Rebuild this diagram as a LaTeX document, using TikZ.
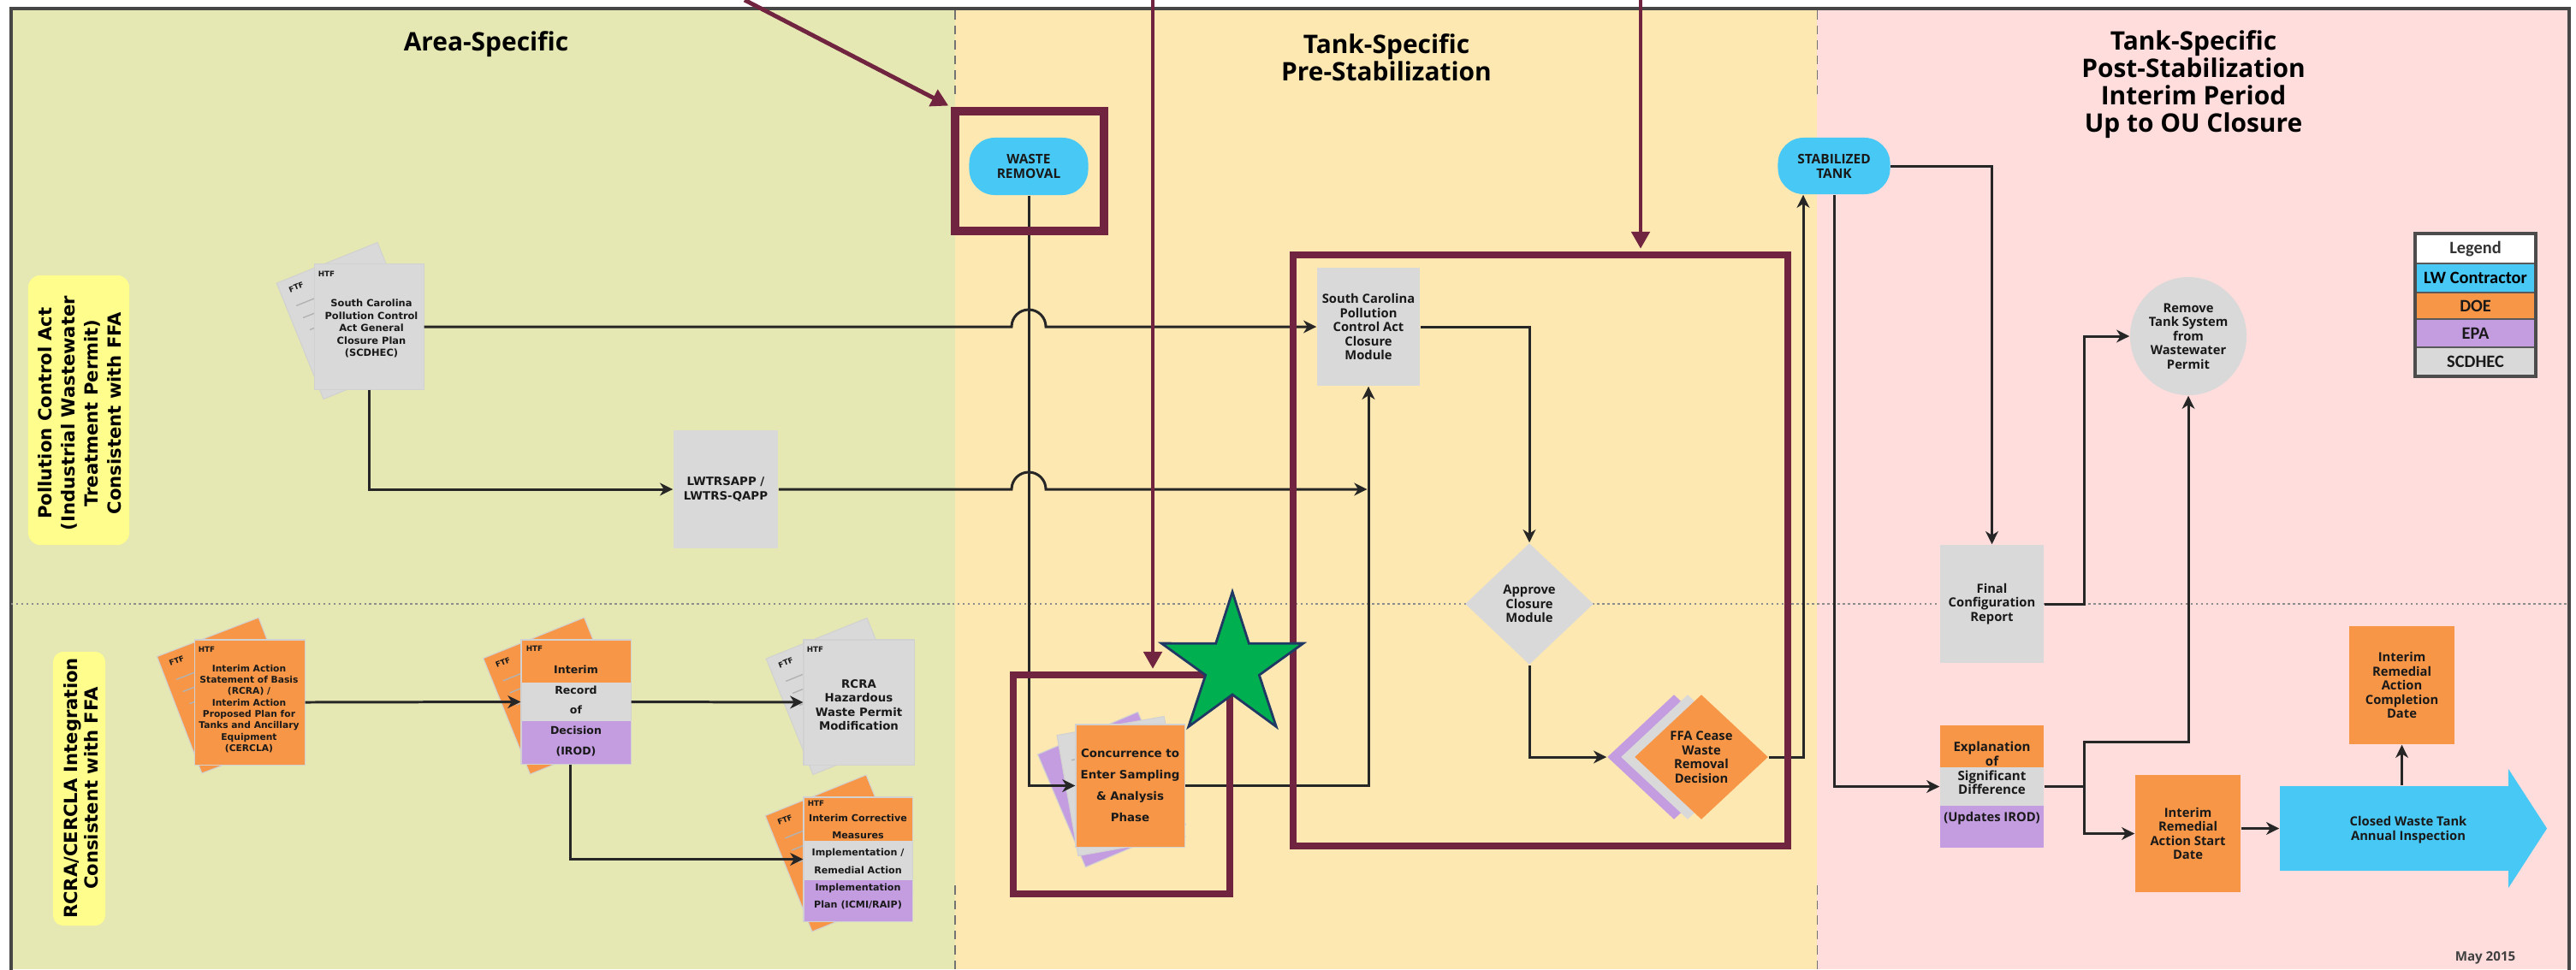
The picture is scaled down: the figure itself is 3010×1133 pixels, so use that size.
\documentclass[tikz,border=0pt]{standalone}
\usepackage{fontspec}
\setmainfont{Open Sans}
\newfontfamily\dvsans{DejaVu Sans}
\newfontfamily\opsans{Open Sans}
\newfontfamily\carlito{Carlito}
\usetikzlibrary{shapes.geometric,arrows.meta,calc}

\definecolor{bgArea}{RGB}{229,232,178}
\definecolor{bgPre}{RGB}{253,232,178}
\definecolor{bgPost}{RGB}{254,221,220}
\definecolor{laneY}{RGB}{255,253,140}
\definecolor{cGray}{RGB}{217,217,217}
\definecolor{cOrange}{RGB}{247,150,70}
\definecolor{cPurple}{RGB}{196,157,224}
\definecolor{cCyan}{RGB}{72,200,245}
\definecolor{maroon}{RGB}{112,36,64}
\definecolor{starG}{RGB}{0,176,80}
\definecolor{starB}{RGB}{31,56,100}
\definecolor{frameC}{RGB}{70,70,70}
\definecolor{lineC}{RGB}{38,38,38}
\definecolor{txtC}{RGB}{25,25,25}

% rotated back sheet of a document stack, with its FTF tag and ruling
\newcommand\backsheet[5]{%
  \node[sheet, fill=#4, rotate=#5, minimum width=1.27cm, minimum height=1.46cm] (#1) at (#2,#3) {};
  \begin{scope}[shift={(#2,#3)}, rotate=#5]
    \node[tag, transform shape] (#1t) at (-44,-60) {FTF};
    \draw[sheetln] (-52,-40) -- (-10,-40) (-50,-24) -- (-10,-24) (-48,-8) -- (-10,-8);
  \end{scope}}

\begin{document}
\begin{tikzpicture}[x=0.01cm, y=-0.01cm,
  conn/.style={draw=lineC, line width=0.85pt, -{Stealth[length=4.3pt,width=4.2pt,inset=1.3pt]}},
  annot/.style={draw=maroon, line width=1.4pt, -{Triangle[length=0.2cm,width=0.21cm]}, shorten >=0.03cm},
  hl/.style={draw=maroon, rectangle, inner sep=0pt, fill=none},
  sheet/.style={rectangle, inner sep=0pt, draw=black!18, line width=0.3pt},
  frontdoc/.style={rectangle, inner sep=0pt, draw=black!18, line width=0.3pt},
  tag/.style={inner sep=0pt, text=txtC, font={\dvsans\bfseries\fontsize{2.5}{3}\selectfont}},
  sheetln/.style={draw=black!30, line width=0.4pt},
  ntxt/.style={align=center, text=txtC, inner sep=0pt, font={\opsans\bfseries\fontsize{4.2}{4.7}\selectfont}},
  dt/.style={align=center, text=txtC, inner sep=0pt},
  gbox/.style={rectangle, fill=cGray, inner sep=0pt, ntxt},
  obox/.style={rectangle, fill=cOrange, inner sep=0pt, ntxt},
  term/.style={rectangle, rounded corners=0.3cm, fill=cCyan, inner sep=0pt, ntxt, font={\opsans\bfseries\fontsize{4.4}{4.8}\selectfont}},
  dmd/.style={diamond, inner sep=0pt, ntxt},
  titletxt/.style={align=center, inner sep=0pt, text=black, font={\opsans\bfseries\fontsize{8.5}{9.1}\selectfont}},
  lanebox/.style={rectangle, rounded corners=0.14cm, fill=laneY, inner sep=0pt},
  lanetxt/.style={align=center, inner sep=0pt, rotate=90, text=black},
  legrow/.style={rectangle, draw=black!65, line width=0.6pt, inner sep=0pt, minimum width=1.39cm, text=txtC, font={\carlito\bfseries\fontsize{5.8}{6.5}\selectfont}},
  colsep/.style={draw=black!55, line width=0.3pt, densely dashed},
  divider/.style={draw=black!45, line width=0.7pt, densely dotted}]

\useasboundingbox (0,0) rectangle (3010,1133);
\fill[white] (0,0) rectangle (3010,1133);

% column backgrounds and frame
\fill[bgArea] (13,10) rectangle (1116,1133);
\fill[bgPre] (1116,10) rectangle (2123,1133);
\fill[bgPost] (2123,10) rectangle (3002,1133);
\draw[frameC, line width=1pt] (13,1140) -- (13,10) -- (3002,10) -- (3002,1140);
\draw[divider] (13,706) -- (3002,706);
\draw[colsep] (1116,12) -- (1116,115) (1116,1035) -- (1116,1133)
              (2123,12) -- (2123,115) (2123,1035) -- (2123,1133);

% column titles
\node[titletxt] (tArea) at (568,52) {Area-Specific};
\node[titletxt] (tPre) at (1620,67) {Tank-Specific\\Pre-Stabilization};
\node[titletxt] (tPost) at (2563,99) {Tank-Specific\\Post-Stabilization\\Interim Period\\Up to OU Closure};

% lane labels
\node[lanebox, minimum width=1.18cm, minimum height=3.15cm] (lane1) at (92,479.5) {};
\node[lanetxt, font={\dvsans\bfseries\fontsize{6}{7.7}\selectfont}] (lane1t) at (93,483)
  {Pollution Control Act\\(Industrial Wastewater\\Treatment Permit)\\Consistent with FFA};
\node[lanebox, rounded corners=0.12cm, minimum width=0.61cm, minimum height=3.2cm] (lane2) at (92.5,922) {};
\node[lanetxt, font={\dvsans\bfseries\fontsize{6}{6.8}\selectfont}] (lane2t) at (95,921.5)
  {RCRA/CERCLA Integration\\Consistent with FFA};

% ---- Area-Specific documents ----
\backsheet{doc1b}{409.5}{375}{cGray}{22}
\node[frontdoc, fill=cGray, minimum width=1.27cm, minimum height=1.46cm] (doc1) at (431.5,382) {};
\node[tag] (doc1h) at ($(doc1.north west)+(14,12)$) {HTF};
\node[dt, font={\dvsans\bfseries\fontsize{3.25}{4.1}\selectfont}] (doc1t) at (434,384)
  {South Carolina\\Pollution Control\\Act General\\Closure Plan\\(SCDHEC)};

\node[gbox, minimum width=1.22cm, minimum height=1.38cm, font={\dvsans\bfseries\fontsize{3.8}{4.9}\selectfont}] (lwtr) at (848,572)
  {LWTRSAPP /\\LWTRS-QAPP};

\backsheet{iasbb}{269}{813}{cOrange}{21}
\node[frontdoc, fill=cOrange, minimum width=1.28cm, minimum height=1.46cm] (iasb) at (292,821) {};
\node[tag] (iasbh) at ($(iasb.north west)+(14,12)$) {HTF};
\node[dt, font={\dvsans\bfseries\fontsize{3.05}{3.8}\selectfont}] (iasbt) at (291,828.5)
  {Interim Action\\Statement of Basis\\(RCRA) /\\Interim Action\\Proposed Plan for\\Tanks and Ancillary\\Equipment\\(CERCLA)};

\backsheet{irodb}{651}{813.5}{cOrange}{22}
\fill[cOrange] (609,748) rectangle (737,798);
\fill[cGray] (609,798) rectangle (737,843);
\fill[cPurple] (609,843) rectangle (737,893);
\node[frontdoc, minimum width=1.28cm, minimum height=1.45cm] (irod) at (673,820.5) {};
\node[tag] (irodh) at ($(irod.north west)+(16,11)$) {HTF};
\node[dt, font={\dvsans\bfseries\fontsize{3.57}{6.7}\selectfont}] (irodt) at (673,831)
  {Interim\\Record\\of\\Decision\\(IROD)};

\backsheet{rcrab}{981.5}{814}{cGray}{22}
\node[frontdoc, fill=cGray, minimum width=1.29cm, minimum height=1.46cm] (rcra) at (1003.5,821) {};
\node[tag] (rcrah) at ($(rcra.north west)+(14,12)$) {HTF};
\node[dt, font={\dvsans\bfseries\fontsize{3.79}{4.7}\selectfont}] (rcrat) at (1003.5,824)
  {RCRA\\Hazardous\\Waste Permit\\Modification};

\backsheet{icmb}{980.5}{997.5}{cOrange}{22}
\fill[cOrange] (939,932) rectangle (1066,983);
\fill[cGray] (939,983) rectangle (1066,1029);
\fill[cPurple] (939,1029) rectangle (1066,1077);
\node[frontdoc, minimum width=1.27cm, minimum height=1.45cm] (icm) at (1002.5,1004.5) {};
\node[tag] (icmh) at ($(icm.north west)+(15,8)$) {HTF};
\node[dt, font={\dvsans\bfseries\fontsize{3.17}{5.7}\selectfont}] (icmt) at (1002.5,1007.5)
  {Interim Corrective\\Measures\\Implementation /\\Remedial Action\\Implementation\\Plan (ICMI/RAIP)};

% ---- Pre-stabilization ----
\node[term, minimum width=1.39cm, minimum height=0.67cm] (waste) at (1202,194.5) {WASTE\\REMOVAL};

\node[sheet, fill=cPurple, rotate=23, minimum width=1.27cm, minimum height=1.43cm] (concb2) at (1299,923) {};
\node[sheet, fill=cGray, rotate=10, minimum width=1.27cm, minimum height=1.43cm] (concb1) at (1310,919) {};
\begin{scope}[shift={(1310,919)}, rotate=10]
  \draw[sheetln] (-52,-40) -- (-10,-40) (-50,-24) -- (-10,-24) (-48,-8) -- (-10,-8);
\end{scope}
\node[frontdoc, fill=cOrange, minimum width=1.27cm, minimum height=1.43cm] (conc) at (1320.5,918.5) {};
\node[dt, font={\dvsans\bfseries\fontsize{3.8}{7.1}\selectfont}] (conct) at (1320.5,918)
  {Concurrence to\\Enter Sampling\\\& Analysis\\Phase};

\node[gbox, minimum width=1.20cm, minimum height=1.38cm] (mod) at (1599,382)
  {South Carolina\\Pollution\\Control Act\\Closure\\Module};
\node[dmd, fill=cGray, minimum width=1.50cm, minimum height=1.42cm] (appr) at (1787,706)
  {Approve\\Closure\\Module};
\node[dmd, fill=cPurple, minimum width=1.56cm, minimum height=1.46cm] (ffap) at (1956,885) {};
\node[dmd, fill=cGray, minimum width=1.56cm, minimum height=1.46cm] (ffag) at (1972,885) {};
\node[dmd, fill=cOrange, minimum width=1.56cm, minimum height=1.46cm] (ffa) at (1988,885)
  {FFA Cease\\Waste\\Removal\\Decision};

% ---- Post-stabilization ----
\node[term, minimum width=1.31cm, minimum height=0.66cm] (stab) at (2143,194) {STABILIZED\\TANK};
\node[gbox, minimum width=1.21cm, minimum height=1.38cm] (final) at (2327.5,706)
  {Final\\Configuration\\Report};
\node[ellipse, fill=cGray, minimum width=1.36cm, minimum height=1.38cm, inner sep=0pt, ntxt] (rem) at (2557,393)
  {Remove\\Tank System\\from\\Wastewater\\Permit};

\fill[cOrange] (2267,848) rectangle (2388,897);
\fill[cGray] (2267,897) rectangle (2388,942);
\fill[cPurple] (2267,942) rectangle (2388,991);
\node[rectangle, inner sep=0pt, minimum width=1.21cm, minimum height=1.43cm] (esd) at (2327.5,919.5) {};
\node[ntxt, font={\opsans\bfseries\fontsize{4.3}{4.75}\selectfont}] (esdt) at (2327.5,898)
  {Explanation\\of\\Significant\\Difference};
\node[ntxt, font={\opsans\bfseries\fontsize{4.2}{4.7}\selectfont}] (esdu) at (2327.5,957) {(Updates IROD)};

\node[obox, minimum width=1.23cm, minimum height=1.37cm] (irs) at (2556.5,974.5)
  {Interim\\Remedial\\Action Start\\Date};
\node[obox, minimum width=1.23cm, minimum height=1.38cm] (irc) at (2806.5,801)
  {Interim\\Remedial\\Action\\Completion\\Date};

\node[rectangle, fill=cCyan, inner sep=0pt, minimum width=2.68cm, minimum height=0.99cm] (cwt) at (2798,968.5) {};
\fill[cCyan] (2931,899) -- (2976,968.5) -- (2931,1038) -- cycle;
\node[ntxt] (cwtt) at (2814,970) {Closed Waste Tank\\Annual Inspection};

% legend
\node[legrow, fill=white, minimum height=0.34cm, text=black!80] (lg0) at (2892.5,291) {Legend};
\node[legrow, fill=cCyan, minimum height=0.34cm, text=black] (lg1) at (2892.5,325) {LW Contractor};
\node[legrow, fill=cOrange, minimum height=0.31cm] (lg2) at (2892.5,357.5) {DOE};
\node[legrow, fill=cPurple, minimum height=0.33cm] (lg3) at (2892.5,389.5) {EPA};
\node[legrow, fill=cGray, minimum height=0.33cm] (lg4) at (2892.5,422.5) {SCDHEC};
\draw[black!70, line width=1pt] (lg0.north west) rectangle (lg4.south east);

\node[ntxt, font={\opsans\bfseries\fontsize{4.3}{4.8}\selectfont}, text=black!75] (date) at (2904,1120) {May 2015};

% ---- connectors ----
\draw[conn] (doc1.east) -- (1182,382) arc[start angle=180, end angle=0, radius=0.2cm] -- (mod.west);
\draw[conn] (doc1.south) |- (lwtr.west);
\coordinate (junc) at (1597.5,572);
\draw[conn] (lwtr.east) -- (1182,572) arc[start angle=180, end angle=0, radius=0.2cm] -- (junc);
\draw[conn] (waste.south) |- (conc.west);
\draw[conn] (conc.east) -| (mod.south);
\draw[conn] (mod.east) -| (appr.north);
\draw[conn] (appr.south) |- (ffap.west);
\draw[conn] (ffa.east) -| ([xshift=-0.36cm]stab.south);
\draw[conn] (stab.east) -| (final.north);
\draw[conn] (stab.south) |- (esd.west);
\draw[conn] (final.east) -- ++(47,0) |- (rem.west);
\draw[conn] (esd.east) -- ++(47,0) -- ++(0,-52) -| (rem.south);
\draw[conn] (esd.east) -- ++(47,0) |- (irs.west);
\draw[conn] (irs.east |- cwt.west) -- (cwt.west);
\draw[conn] (irc.south |- cwt.north) -- (irc.south);

\draw[conn] (iasb.east) -- (irod.west);
\draw[conn] (irod.east) -- (rcra.west);
\draw[conn] ([xshift=-0.07cm]irod.south) |- (icm.west);

% ---- highlight frames and callouts ----
\node[hl, line width=0.1cm, minimum width=1.74cm, minimum height=1.40cm] (wrHL) at (1203,200) {};
\node[hl, line width=0.08cm, minimum width=2.53cm, minimum height=2.56cm] (concHL) at (1310.5,917) {};
\node[hl, line width=0.08cm, minimum width=5.78cm, minimum height=6.91cm] (bigHL) at (1800,643.5) {};

\coordinate (a1s) at (870,0);
\coordinate (a2s) at (1347,0);
\coordinate (a3s) at (1917,0);
\draw[annot] (a1s) -- (wrHL.north west);
\draw[annot] (a2s) -- (a2s |- concHL.north);
\draw[annot] (a3s) -- (a3s |- bigHL.north);

\node[star, star points=5, star point ratio=2.64, minimum size=1.74cm, inner sep=0pt,
      fill=starG, draw=starB, line width=0.8pt] (star) at (1440,779) {};

\end{tikzpicture}
\end{document}
